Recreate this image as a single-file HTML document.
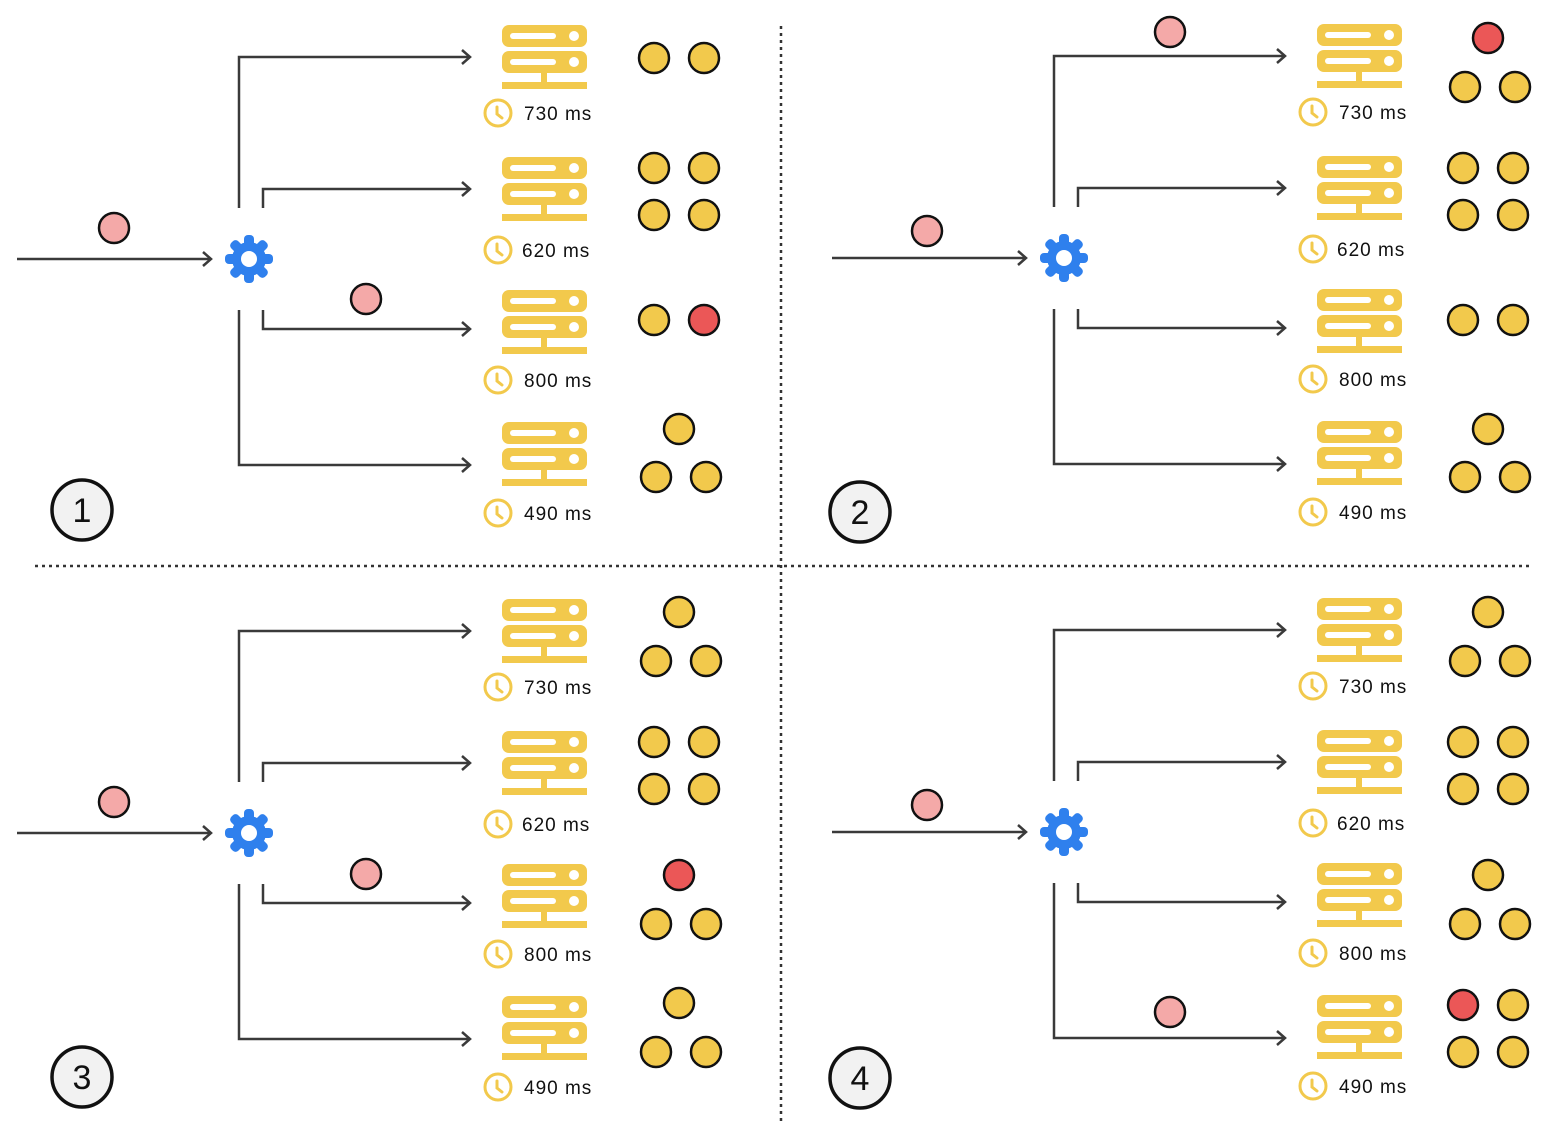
<!DOCTYPE html>
<html><head><meta charset="utf-8"><style>
html,body{margin:0;padding:0;background:#fff;}
svg{display:block;}
text{font-family:"Liberation Sans",sans-serif;}
</style></head><body>
<svg width="1542" height="1136" viewBox="0 0 1542 1136" xmlns="http://www.w3.org/2000/svg">
<defs>
<g id="srv">
<rect x="0" y="0" width="85" height="22" rx="7" fill="#f2c94c"/>
<rect x="0" y="26" width="85" height="22" rx="7" fill="#f2c94c"/>
<rect x="8" y="8" width="46" height="6" rx="3" fill="#fff"/>
<rect x="8" y="34" width="46" height="6" rx="3" fill="#fff"/>
<circle cx="72" cy="11" r="5" fill="#fff"/>
<circle cx="72" cy="37" r="5" fill="#fff"/>
<rect x="39" y="48" width="6" height="10" fill="#f2c94c"/>
<rect x="0" y="57" width="85" height="7" fill="#f2c94c"/>
</g>
<g id="clk">
<circle cx="0" cy="0" r="13" fill="none" stroke="#f2c94c" stroke-width="3"/>
<path d="M-1,-6 L-1,1 L4,5" fill="none" stroke="#f2c94c" stroke-width="3" stroke-linecap="round"/>
</g>
<g id="gear">
<g fill="#2f80ed">
<circle r="17"/>
<rect x="-5" y="-24" width="10" height="48" rx="4"/>
<rect x="-5" y="-24" width="10" height="48" rx="4" transform="rotate(45)"/>
<rect x="-5" y="-24" width="10" height="48" rx="4" transform="rotate(90)"/>
<rect x="-5" y="-24" width="10" height="48" rx="4" transform="rotate(135)"/>
</g>
<circle r="8" fill="#fff"/>
</g>
<g id="base" fill="none" stroke="#3a3a3a" stroke-width="2.5">
<path d="M17,259 H211"/><path d="M203,252 L211,259 L203,266"/>
<path d="M239,208 V57 H470"/><path d="M462,50 L470,57 L462,64"/>
<path d="M263,208 V189 H470"/><path d="M462,182 L470,189 L462,196"/>
<path d="M263,310 V329 H470"/><path d="M462,322 L470,329 L462,336"/>
<path d="M239,310 V465 H470"/><path d="M462,458 L470,465 L462,472"/>
</g>
<g id="quad">
<use href="#base"/>
<use href="#gear" x="249" y="259"/>
<use href="#srv" x="502" y="25"/>
<use href="#srv" x="502" y="157"/>
<use href="#srv" x="502" y="290"/>
<use href="#srv" x="502" y="422"/>
<use href="#clk" x="498" y="113"/>
<use href="#clk" x="498" y="250"/>
<use href="#clk" x="498" y="380"/>
<use href="#clk" x="498" y="513"/>
</g>
</defs>

<line x1="781" y1="26" x2="781" y2="1122" stroke="#333" stroke-width="2.5" stroke-dasharray="3,4"/>
<line x1="35" y1="566" x2="1530" y2="566" stroke="#333" stroke-width="2.5" stroke-dasharray="3,4"/>

<use href="#quad" x="0" y="0"/>
<use href="#quad" x="815" y="-1"/>
<use href="#quad" x="0" y="574"/>
<use href="#quad" x="815" y="573"/>

<g font-size="19" fill="#111" letter-spacing="1">
<text x="524" y="120">730 ms</text><text x="522" y="257">620 ms</text><text x="524" y="387">800 ms</text><text x="524" y="520">490 ms</text>
<text x="1339" y="119">730 ms</text><text x="1337" y="256">620 ms</text><text x="1339" y="386">800 ms</text><text x="1339" y="519">490 ms</text>
<text x="524" y="694">730 ms</text><text x="522" y="831">620 ms</text><text x="524" y="961">800 ms</text><text x="524" y="1094">490 ms</text>
<text x="1339" y="693">730 ms</text><text x="1337" y="830">620 ms</text><text x="1339" y="960">800 ms</text><text x="1339" y="1093">490 ms</text>
</g>

<g stroke="#111" stroke-width="2.5">
<g fill="#f4a9a8">
<circle cx="114" cy="228" r="15"/><circle cx="366" cy="299" r="15"/>
<circle cx="927" cy="231" r="15"/><circle cx="1170" cy="32" r="15"/>
<circle cx="114" cy="802" r="15"/><circle cx="366" cy="874" r="15"/>
<circle cx="927" cy="805" r="15"/><circle cx="1170" cy="1012" r="15"/>
</g>
<g fill="#eb5757">
<circle cx="704" cy="320" r="15"/><circle cx="1488" cy="38" r="15"/>
<circle cx="679" cy="875" r="15"/><circle cx="1463" cy="1005" r="15"/>
</g>
<g fill="#f2c94c">
<circle cx="654" cy="58" r="15"/><circle cx="704" cy="58" r="15"/>
<circle cx="654" cy="168" r="15"/><circle cx="704" cy="168" r="15"/><circle cx="654" cy="215" r="15"/><circle cx="704" cy="215" r="15"/>
<circle cx="654" cy="320" r="15"/>
<circle cx="679" cy="429" r="15"/><circle cx="656" cy="477" r="15"/><circle cx="706" cy="477" r="15"/>
<circle cx="1465" cy="87" r="15"/><circle cx="1515" cy="87" r="15"/>
<circle cx="1463" cy="168" r="15"/><circle cx="1513" cy="168" r="15"/><circle cx="1463" cy="215" r="15"/><circle cx="1513" cy="215" r="15"/>
<circle cx="1463" cy="320" r="15"/><circle cx="1513" cy="320" r="15"/>
<circle cx="1488" cy="429" r="15"/><circle cx="1465" cy="477" r="15"/><circle cx="1515" cy="477" r="15"/>
<circle cx="679" cy="612" r="15"/><circle cx="656" cy="661" r="15"/><circle cx="706" cy="661" r="15"/>
<circle cx="654" cy="742" r="15"/><circle cx="704" cy="742" r="15"/><circle cx="654" cy="789" r="15"/><circle cx="704" cy="789" r="15"/>
<circle cx="656" cy="924" r="15"/><circle cx="706" cy="924" r="15"/>
<circle cx="679" cy="1003" r="15"/><circle cx="656" cy="1052" r="15"/><circle cx="706" cy="1052" r="15"/>
<circle cx="1488" cy="612" r="15"/><circle cx="1465" cy="661" r="15"/><circle cx="1515" cy="661" r="15"/>
<circle cx="1463" cy="742" r="15"/><circle cx="1513" cy="742" r="15"/><circle cx="1463" cy="789" r="15"/><circle cx="1513" cy="789" r="15"/>
<circle cx="1488" cy="875" r="15"/><circle cx="1465" cy="924" r="15"/><circle cx="1515" cy="924" r="15"/>
<circle cx="1513" cy="1005" r="15"/><circle cx="1463" cy="1052" r="15"/><circle cx="1513" cy="1052" r="15"/>
</g>
<g fill="#f2f2f2" stroke-width="3.5">
<circle cx="82" cy="510" r="30"/><circle cx="860" cy="512" r="30"/>
<circle cx="82" cy="1077" r="30"/><circle cx="860" cy="1078" r="30"/>
</g>
</g>
<g font-size="34" fill="#111" text-anchor="middle">
<text x="82" y="522">1</text><text x="860" y="524">2</text>
<text x="82" y="1089">3</text><text x="860" y="1090">4</text>
</g>
</svg>
</body></html>
